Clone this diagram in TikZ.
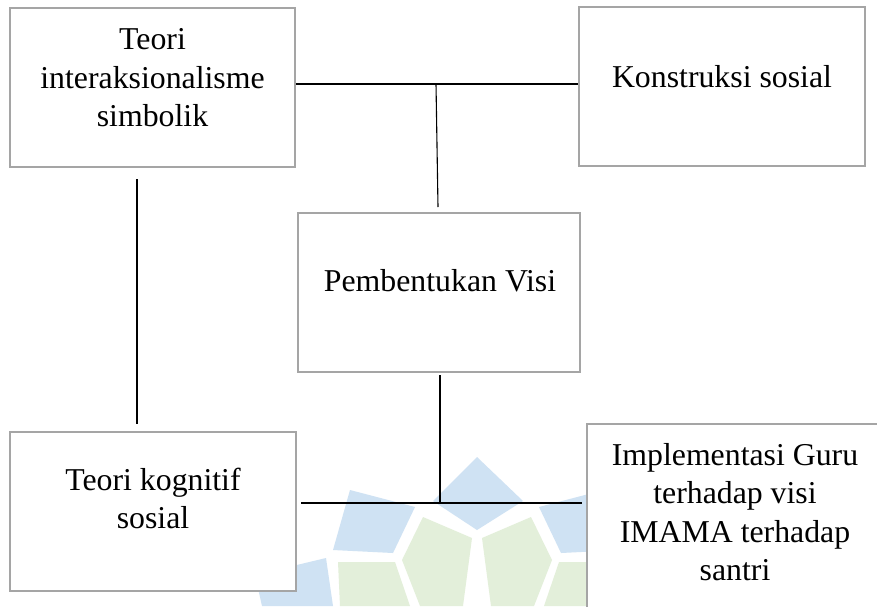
\documentclass[tikz,border=0pt]{standalone}
\usepackage{fontspec}
\setmainfont{Liberation Serif}
\definecolor{wmblue}{RGB}{207,226,243}
\definecolor{wmgreen}{RGB}{227,239,218}
\definecolor{boxgray}{RGB}{165,165,165}
\begin{document}
\begin{tikzpicture}[x=0.5pt,y=-0.5pt,
  box/.style={draw=boxgray, line width=0.8pt, fill=white, rectangle, inner sep=0pt},
  txt/.style={font=\fontsize{15.9pt}{19.3pt}\selectfont, inner sep=0pt, anchor=base},
  link/.style={draw=black, line width=0.55pt},
  petalB/.style={fill=wmblue},
  petalG/.style={fill=wmgreen}]
\useasboundingbox (0,0) rectangle (877,606);
\fill[white] (0,0) rectangle (877,606);
% faint watermark (logo)
\fill[petalB] (477,457) -- (523,501) -- (477,530) -- (433,501) -- cycle;
\fill[petalB] (350,490) -- (415,507) -- (393,553) -- (333,550) -- cycle;
\fill[petalB] (604,490) -- (539,507) -- (561,553) -- (621,550) -- cycle;
\fill[petalB] (255,575) -- (326,558) -- (333,606) -- (262,606) -- cycle;
\fill[petalG] (423,517) -- (472,538) -- (463,606) -- (420,606) -- (402,560) -- cycle;
\fill[petalG] (531,517) -- (482,538) -- (491,606) -- (534,606) -- (552,560) -- cycle;
\fill[petalG] (338,562) -- (395,562) -- (410,606) -- (340,606) -- cycle;
\fill[petalG] (616,562) -- (559,562) -- (544,606) -- (614,606) -- cycle;
% boxes
\node[box, minimum width=142.5pt, minimum height=79.5pt] (A) at (152.5,87.5) {};
\node[box, minimum width=143pt, minimum height=79.5pt] (B) at (722,86.5) {};
\node[box, minimum width=141pt, minimum height=79.5pt] (C) at (439,292.5) {};
\node[box, minimum width=143pt, minimum height=79.5pt] (D) at (153,511.5) {};
\node[box, minimum width=151.5pt, minimum height=98pt] (E) at (738.5,522) {};
% connectors
\coordinate (j1) at (436,84);
\coordinate (c1) at (438,207);
\draw[link] (A.east |- j1) -- (B.west |- j1);
\draw[link] (j1) -- (c1);
\coordinate (l1) at (137,179);
\coordinate (l2) at (137,424);
\draw[link] (l1) -- (l2);
\coordinate (m1) at (440,375);
\coordinate (j2) at (440,503);
\draw[link] (m1) -- (j2);
\coordinate (h1) at (301,503);
\coordinate (h2) at (582,503);
\draw[link] (h1) -- (h2);
% texts
\node[txt] (tA) at (152.5,49.5) {\begin{tabular}[t]{@{}c@{}}Teori\\interaksionalisme\\simbolik\end{tabular}};
\node[txt] (tB) at (722,87) {Konstruksi sosial};
\node[txt] (tC) at (440,291) {Pembentukan Visi};
\node[txt] (tD) at (153,490) {\begin{tabular}[t]{@{}c@{}}Teori kognitif\\sosial\end{tabular}};
\node[txt] (tE) at (735,465) {\begin{tabular}[t]{@{}c@{}}Implementasi Guru\\terhadap visi\\IMAMA terhadap\\santri\end{tabular}};
\end{tikzpicture}
\end{document}
